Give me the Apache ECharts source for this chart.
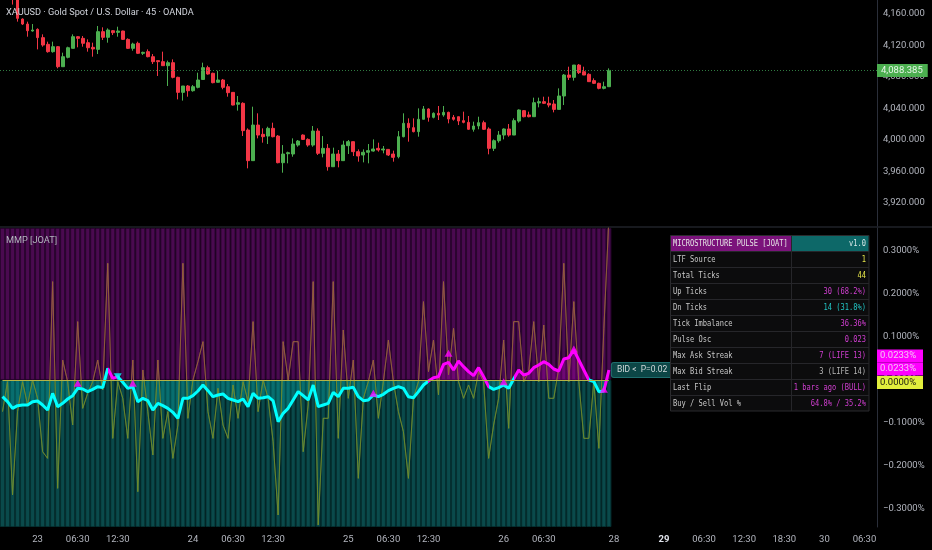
<!DOCTYPE html>
<html><head><meta charset="utf-8">
<script src="https://cdn.jsdelivr.net/npm/echarts@6/dist/echarts.min.js"></script>
<style>html,body{margin:0;padding:0;background:#000;}#c{width:932px;height:550px;}</style>
</head><body><div id="c"></div><script>
// ---------- data ----------
const SLOTS = 175;            // bar slots on the time axis (incl. future space)
const FIRST_CANDLE_SLOT = 2;  // first visible candle slot
const candleOpen = [4182,4179,4153.6,4147.3,4138.4,4140.5,4130,4121.5,4112.2,4118.5,
4093.1,4105,4116.4,4131.2,4129.1,4123.6,4117.7,4115.1,4137.6,4130.4,
4138.8,4136.7,4138.4,4127.8,4116.4,4122.8,4110.1,4112.2,4105.8,4100.8,
4099.5,4094.4,4098.2,4079.6,4060.5,4068.6,4062.6,4066.9,4076.9,4091.9,
4084.7,4073.3,4076.2,4067.7,4060.5,4045.4,4046.6,4012.7,3973.8,4019,
4007.2,4005,4014.8,4005,3971.2,3982.6,3982.2,3993.6,4006.3,4000.8,
3993.6,4011.4,3983.1,3989.4,3966.1,3982.2,3973.8,3992.8,3997.9,3985.2,
3981,3984.4,3986,3989.4,3987.3,3988.1,3982.2,3978.8,4004.2,4021.2,
4015.7,4010.6,4026.3,4039.4,4028.8,4033.9,4031.8,4035.1,4028.8,4029.6,
4024.6,4022.4,4013.6,4017.8,4022,4014,3989.4,3999.1,4006.3,4014,
4006.3,4024.1,4037.3,4031.8,4029.6,4047,4048.7,4046.6,4045.7,4038.9,
4055.9,4082.5,4079.6,4095.2,4086.8,4083.4,4075.4,4072,4065.6,4067.7];
const candleClose = [4179,4154.5,4147.3,4138.8,4139.7,4130,4120.6,4112.2,4118.5,4093.1,
4105.8,4117.2,4131.2,4129.1,4122.8,4117.2,4115.6,4137.6,4130.4,4139.7,
4136.3,4138.4,4127.8,4116.4,4121.9,4110.1,4111.3,4105.8,4099.5,4099.5,
4094.4,4098.2,4079.6,4060.5,4068.6,4062.6,4067.7,4076.2,4091.9,4083.8,
4072.8,4076.2,4066.9,4060.1,4044.4,4047.4,4011.9,3973.8,4019,4006.3,
4004.2,4014.8,4004.2,3971.2,3982.2,3983.9,3994.9,3998.7,4000.8,3993.6,
4011.4,3983.1,3989.4,3966.1,3982.2,3973.8,3993.6,3997.9,3985.2,3979.7,
3984.4,3986.5,3988.6,3987.3,3988.6,3981,3978,4004.2,4021.2,4015.7,
4010.6,4026.3,4039.4,4028.8,4033.9,4031.8,4035.1,4026.7,4026.3,4024.1,
4022.4,4013.6,4017.8,4022,4013.6,3989.4,3999.1,4006.3,4014,4006.3,
4024.6,4038.1,4029.6,4029.6,4047.4,4048.7,4046.6,4044.4,4038.9,4055.9,
4082.5,4079.6,4095.2,4085.5,4082.5,4074.1,4072,4065.6,4067.7,4088.385];
const candleLow = [4172,4150.3,4146,4131.2,4137.6,4115.1,4118.5,4110.9,4110.9,4091,
4093,4103.7,4116.4,4117.7,4118.5,4112.2,4105.8,4109.2,4127,4123.6,
4133.3,4131.2,4127,4115.6,4113.4,4109.2,4108,4105,4096.5,4081.3,
4094.4,4068.6,4078.3,4051.6,4050,4055,4061.4,4065.6,4076.9,4083,
4072,4072.8,4064.4,4055,4044,4037.3,4005.1,3964,3973.8,4002.1,
3996.6,3994.9,4003.4,3970.4,3958.5,3970.4,3978.8,3991.5,4000,3991.5,
3991.5,3981,3978,3961.1,3966.1,3965.3,3973.8,3982.2,3979.7,3972.5,
3971.6,3970.4,3985.2,3985.2,3983.1,3979.7,3972.5,3976.7,4003.4,3997.9,
4009.7,4004.2,4026.3,4023.3,4027.5,4025.4,4029.6,4021.2,4024.6,4019,
4021.2,4012.7,4010.6,4013.6,4012.7,3981.8,3986,3996.6,4000.8,4004.2,
4006.3,4022,4028.8,4028.8,4029.6,4041.5,4045.7,4041.5,4035.1,4038.9,
4044.4,4076.2,4075.4,4083.8,4082.5,4074.1,4071.1,4064.4,4064.4,4067.7];
const candleHigh = [4185,4185,4154.5,4150.3,4147.3,4141.8,4134.2,4124.9,4124.9,4119.4,
4110.9,4118.5,4134.2,4132.1,4132.1,4127.8,4123.6,4144.8,4143.1,4141.8,
4139.7,4143.9,4138.8,4129.1,4123.6,4124.9,4112.2,4115.1,4109.2,4100.8,
4112.2,4100.8,4102.4,4080.4,4068.6,4069.8,4069.8,4085.5,4098.2,4094.4,
4085.5,4088,4077.5,4071.1,4060.9,4055.9,4047.9,4014.8,4042.3,4033.9,
4014.8,4016.9,4022,4006.3,3993.6,3985.2,4002.1,4000,4007.2,4002.1,
4017.8,4014.8,4005,3994.9,3990.3,3987.3,3999.1,4000,3997.9,3988.1,
3988.1,3994.9,4000.8,3996.6,3992.4,3988.6,3986.5,4011.4,4033.9,4027.5,
4027.5,4040.2,4043.2,4040.2,4035.1,4043.2,4043.2,4036,4031.8,4029.6,
4036,4030.5,4023.3,4029.6,4024.6,4016.1,4000.8,4011.4,4014.8,4020.3,
4027.5,4038.9,4038.1,4036,4053.8,4053.8,4055,4055,4050.8,4065.6,
4083.8,4093.1,4095.2,4096.5,4093.1,4084.7,4078.3,4072.8,4074.1,4091];
// oscillator (percent units), one value per slot 0..121
const pulseOsc = [-0.0388,-0.0504,-0.0659,-0.0597,-0.0581,-0.0581,-0.0504,-0.0488,-0.0581,-0.0698,
-0.0310,-0.0620,-0.0543,-0.0442,-0.0364,-0.0194,-0.0209,-0.0271,-0.0217,-0.0155,
-0.0178,0.0271,0.0039,0.0078,-0.0054,-0.0194,-0.0155,-0.0504,-0.0426,-0.0481,
-0.0698,-0.0543,-0.0597,-0.0659,-0.0752,-0.0891,-0.0426,-0.0426,-0.0364,-0.0256,
-0.0116,-0.0248,-0.0388,-0.0349,-0.0326,-0.0426,-0.0465,-0.0504,-0.0442,-0.0620,
-0.0310,-0.0426,-0.0411,-0.0388,-0.0488,-0.0969,-0.0775,-0.0659,-0.0465,-0.0271,
-0.0364,-0.0465,-0.0116,-0.0620,-0.0581,-0.0543,-0.0287,-0.0388,-0.0194,-0.0194,
-0.0171,-0.0388,-0.0481,-0.0465,-0.0349,-0.0388,-0.0333,-0.0248,-0.0194,-0.0155,
-0.0194,-0.0388,-0.0411,-0.0271,-0.0116,-0.0023,0.0054,0.0078,0.0364,0.0411,
0.0233,0.0442,0.0310,0.0194,0.0101,0.0287,0.0078,-0.0155,-0.0217,-0.0178,
-0.0116,-0.0194,0.0023,0.0233,0.0116,0.0155,0.0287,0.0349,0.0426,0.0364,
0.0256,0.0209,0.0488,0.0519,0.0698,0.0465,0.0233,0.0000,-0.0039,-0.0271,
-0.0256,0.0233];
const tickImbalance = [-0.0736,-0.0039,-0.2674,-0.0736,-0.0039,-0.0581,0,-0.0426,-0.1667,-0.1822,
0.2287,-0.2519,0.0465,-0.0039,-0.1047,0.1357,-0.0659,-0.0310,-0.0039,0.0465,
-0.0233,0.2713,-0.1357,-0.0039,-0.0426,-0.1357,0.0465,-0.2597,0.0233,-0.0736,
-0.1744,0.0465,-0.1357,-0.0736,-0.1822,-0.1047,0.2713,-0.0891,0,0.0426,
0.0891,-0.0736,-0.1357,-0.0194,-0.1047,-0.1357,-0.0116,-0.0891,-0.0039,-0.0504,
0.1357,-0.0736,0,-0.0426,-0.1434,-0.3140,0.0891,0,0.0891,0.0891,
-0.1667,-0.0581,0.2287,-0.3372,-0.0891,-0.0891,0.2287,-0.1357,0.1163,-0.0426,
0.0465,-0.2287,-0.0426,-0.0039,0.0465,-0.0891,-0.0039,0.0930,-0.0039,-0.0736,
-0.1202,-0.2287,-0.0426,-0.0039,0.1822,0.0194,0.0930,-0.0349,0.2287,0.0116,
0.1202,-0.0039,-0.0426,-0.0116,-0.0426,0.0194,-0.0039,-0.1822,-0.1047,-0.0426,
0.0930,-0.1124,0.1357,0.1357,-0.0039,0.0194,0.1357,-0.0039,0.1279,-0.0426,
-0.0426,0.0271,0.2713,-0.0039,0.1822,-0.0039,-0.1357,-0.1357,-0.0039,-0.1589,
0.1202,0.3760];
const bullFlipMarks = [[15,-0.0077],[26,-0.0077],[74,-0.031],[89,0.062],[100,-0.004],[114,0.072],[120,-0.0217]];
const bearFlipMarks = [[23,0.0077]];
const bullRuns = [[21,22],[85,96],[102,116],[120,121]];
const priceTicks = [3920,3960,4000,4040,4080,4120,4160];
const oscTicks = [-0.3,-0.2,-0.1,0,0.1,0.2,0.3];
const timeTicks = [[7,'23'],[15,'06:30'],[23,'12:30'],[38,'24'],[46,'06:30'],[54,'12:30'],
 [69,'25'],[77,'06:30'],[85,'12:30'],[100,'26'],[108,'06:30'],[122,'28'],[132,'29'],
 [140,'06:30'],[148,'12:30'],[156,'18:30'],[164,'30'],[172,'06:30']];
const boldTimeLabels = ['29'];
const PRICE_MIN = 3890.8, PRICE_MAX = 4177.8;
const OSC_MIN = -0.3419, OSC_MAX = 0.3535;
const lastPrice = 4088.385;
const pulseLast = 0.0233;
const titleText = 'XAUUSD · Gold Spot / U.S. Dollar · 45 · OANDA';
const paneText = 'MMP [JOAT]';
const endText = 'BID <  P=0.02';
const tableHeader = ['MICROSTRUCTURE PULSE [JOAT]', 'v1.0'];
const tableLabels = ['LTF Source','Total Ticks','Up Ticks','Dn Ticks','Tick Imbalance','Pulse Osc','Max Ask Streak','Max Bid Streak','Last Flip','Buy / Sell Vol %'];
const tableValues = ['1','44','30 (68.2%)','14 (31.8%)','36.36%','0.023','7 (LIFE 13)','3 (LIFE 14)','1 bars ago (BULL)','64.8% / 35.2%'];
const tableValueTone = ['y','y','m','c','m','m','m','g','m','m'];

// ---------- styles ----------
const CYAN = '#00ffff', MAG = '#ff00ff';
const UP = '#4caf50', DOWN = '#f23645';
const AXIS_TXT = '#b2b5be';
const FONT = 'Roboto';
const toneColor = {y:'#e4e44a', m:'#d23fd2', c:'#22c4c4', g:'#b8b8b8'};

const categories = Array.from({length: SLOTS}, (_, i) => String(i));
const candleData = [];
for (let k = 0; k < FIRST_CANDLE_SLOT; k++) candleData.push(['-','-','-','-']);
candleOpen.forEach((o, i) => candleData.push([o, candleClose[i], candleLow[i], candleHigh[i]]));
const zoneUp = pulseOsc.map(() => OSC_MAX);
const zoneDn = pulseOsc.map(() => OSC_MIN);
const timeMap = {}; timeTicks.forEach(([i, t]) => timeMap[i] = t);

// colour sections of the pulse line along the time axis (finite bounds so gradient stops exist)
const pulsePieces = [];
let prevEdge = -1;
bullRuns.forEach(([a, b]) => {
  pulsePieces.push({gte: prevEdge, lt: a - 0.5, color: CYAN});
  pulsePieces.push({gte: a - 0.5, lt: b + 0.5, color: MAG});
  prevEdge = b + 0.5;
});
pulsePieces.push({gte: prevEdge, lte: SLOTS, color: CYAN});

const fmtPrice = v => v.toLocaleString('en-US', {minimumFractionDigits: 3, maximumFractionDigits: 3});
const fmtPct = v => (v < -1e-9 ? '\u2212' : '') + Math.abs(v).toFixed(4) + '%';

const chart = echarts.init(document.getElementById('c'));
const option = {
  animation: false,
  backgroundColor: '#000000',
  title: [
    {text: titleText, left: 6, top: 8, padding: 0, textStyle: {color: '#d1d4dc', fontSize: 9.2, fontWeight: 'normal', fontFamily: FONT}},
    {text: paneText, left: 6, top: 236, padding: 0, textStyle: {color: AXIS_TXT, fontSize: 9.2, fontWeight: 'normal', fontFamily: FONT}}
  ],
  grid: [
    {left: 0, right: 55, top: 0, height: 226},
    {left: 0, right: 55, top: 228, height: 299}
  ],
  xAxis: [
    {type: 'category', gridIndex: 0, data: categories, axisLine: {show: false}, axisTick: {show: false}, axisLabel: {show: false}, splitLine: {show: false}},
    {type: 'category', gridIndex: 1, data: categories, axisLine: {show: false}, axisTick: {show: false}, splitLine: {show: false},
     axisLabel: {
       margin: 8, color: AXIS_TXT, fontSize: 9.5, fontFamily: FONT,
       interval: (idx) => timeMap[idx] !== undefined,
       formatter: (val, idx) => { const t = timeMap[idx]; if (t === undefined) return ''; return boldTimeLabels.includes(t) ? '{b|' + t + '}' : t; },
       rich: {b: {fontWeight: 'bold', color: '#e0e3eb', fontSize: 9.5, fontFamily: FONT}}
     }}
  ],
  yAxis: [
    {type: 'value', gridIndex: 0, position: 'right', min: PRICE_MIN, max: PRICE_MAX, scale: true,
     axisLine: {show: true, lineStyle: {color: '#2a2e39'}}, axisTick: {show: false}, splitLine: {show: false},
     axisLabel: {customValues: priceTicks, margin: 6, color: AXIS_TXT, fontSize: 9.5, fontFamily: FONT, formatter: fmtPrice}},
    {type: 'value', gridIndex: 1, position: 'right', min: OSC_MIN, max: OSC_MAX,
     axisLine: {show: true, lineStyle: {color: '#2a2e39'}}, axisTick: {show: false}, splitLine: {show: false},
     axisLabel: {customValues: oscTicks, margin: 6, color: AXIS_TXT, fontSize: 9.5, fontFamily: FONT, formatter: fmtPct}}
  ],
  visualMap: [
    {type: 'piecewise', show: false, seriesIndex: 4, dimension: 0, pieces: pulsePieces},
    {type: 'piecewise', show: false, seriesIndex: 3, dimension: 1,
     pieces: [{gte: -1, lt: 0, color: 'rgba(112,140,44,0.7)'}, {gte: 0, lte: 1, color: 'rgba(150,96,60,0.72)'}]}
  ],
  series: [
    {type: 'candlestick', xAxisIndex: 0, yAxisIndex: 0, data: candleData, barWidth: '66%', clip: true,
     itemStyle: {color: UP, color0: DOWN, borderColor: UP, borderColor0: DOWN, borderWidth: 1},
     markLine: {silent: true, symbol: ['none', 'none'],
       lineStyle: {color: '#2f7a40', type: [1, 2], width: 1},
       label: {show: true, position: 'end', distance: 0, formatter: fmtPrice(lastPrice), color: '#e8f5e9',
               backgroundColor: '#4caf50', padding: [2, 5, 1, 4], fontSize: 9.5, fontFamily: FONT},
       data: [{yAxis: lastPrice}]}},
    {type: 'bar', xAxisIndex: 1, yAxisIndex: 1, data: zoneUp, barWidth: '100%', barGap: '-100%', silent: true,
     itemStyle: {color: '#4a0a50', borderColor: '#2c0531', borderWidth: 1}},
    {type: 'bar', xAxisIndex: 1, yAxisIndex: 1, data: zoneDn, barWidth: '100%', barGap: '-100%', silent: true,
     itemStyle: {color: '#0a4a4b', borderColor: '#053031', borderWidth: 1},
     markLine: {silent: true, symbol: ['none', 'none'], label: {show: false},
       lineStyle: {color: '#b4b445', type: 'solid', width: 1},
       data: [[{coord: ['0', 0]}, {coord: [String(pulseOsc.length - 1), 0]}]]}},
    {type: 'line', xAxisIndex: 1, yAxisIndex: 1, data: tickImbalance, symbol: 'none', lineStyle: {width: 1}, silent: true},
    {type: 'line', xAxisIndex: 1, yAxisIndex: 1, data: pulseOsc, symbol: 'none', lineStyle: {width: 3}, silent: true,
     areaStyle: {opacity: 0.2},
     endLabel: {show: true, formatter: endText, color: '#d0d8da', fontSize: 8.5, fontFamily: FONT,
       backgroundColor: '#0c4646', borderColor: '#1f6e6e', borderWidth: 1, borderRadius: 2, padding: [3, 5, 2, 5], distance: 3}},
    {type: 'scatter', xAxisIndex: 1, yAxisIndex: 1, data: bullFlipMarks, symbol: 'triangle', symbolSize: [8, 7],
     itemStyle: {color: MAG}, silent: true, z: 5},
    {type: 'scatter', xAxisIndex: 1, yAxisIndex: 1, data: bearFlipMarks, symbol: 'triangle', symbolRotate: 180, symbolSize: [8, 7],
     itemStyle: {color: CYAN}, silent: true, z: 5}
  ]
};
chart.setOption(option);

// ---------- overlays: pane separator, info table, right-scale value tags ----------
const g = [];
g.push({type: 'line', z: 20, shape: {x1: 0, y1: 227, x2: 932, y2: 227}, style: {stroke: '#2f323c', lineWidth: 1}});
const T = {x: 670.5, y: 235.5, w: 198.5, headH: 15.5, rowH: 16, split: 791.5, tx: 673, vx: 866};
const MONO = '8.5px "DejaVu Sans Mono"';
const rowsH = T.headH + T.rowH * tableLabels.length;
g.push({type: 'rect', z: 20, shape: {x: T.x, y: T.y, width: T.w, height: rowsH}, style: {fill: '#0c0c0d', stroke: '#2b2b2e', lineWidth: 1}});
g.push({type: 'rect', z: 21, shape: {x: T.x + 0.5, y: T.y + 0.5, width: T.split - T.x - 0.5, height: T.headH - 0.5}, style: {fill: '#7b137b'}});
g.push({type: 'rect', z: 21, shape: {x: T.split, y: T.y + 0.5, width: T.x + T.w - T.split - 0.5, height: T.headH - 0.5}, style: {fill: '#0d6868'}});
for (let i = 0; i <= tableLabels.length - 1; i++) {
  const yy = Math.round(T.y + T.headH + T.rowH * i) + 0.5;
  g.push({type: 'line', z: 21, shape: {x1: T.x, y1: yy, x2: T.x + T.w, y2: yy}, style: {stroke: '#26262a', lineWidth: 1}});
}
g.push({type: 'line', z: 21, shape: {x1: T.split, y1: T.y, x2: T.split, y2: T.y + rowsH}, style: {stroke: '#26262a', lineWidth: 1}});
function mono(x, y, text, color, align) {
  return {type: 'text', z: 22, x: x, y: y, scaleX: 0.83, style: {text: text, fill: color, font: MONO, align: align, verticalAlign: 'middle'}};
}
g.push(mono(T.tx, T.y + T.headH / 2 + 0.5, tableHeader[0], '#e6e6e6', 'left'));
g.push(mono(T.vx, T.y + T.headH / 2 + 0.5, tableHeader[1], '#d8e8e8', 'right'));
tableLabels.forEach((lab, i) => {
  const cy = T.y + T.headH + T.rowH * i + T.rowH / 2 + 0.5;
  g.push(mono(T.tx, cy, lab, '#c8c8c8', 'left'));
  g.push(mono(T.vx, cy, tableValues[i], toneColor[tableValueTone[i]], 'right'));
});
// right-scale value tags (stacked like the platform does)
const yZero = chart.convertToPixel({yAxisIndex: 1}, 0);
const yPulse = chart.convertToPixel({yAxisIndex: 1}, pulseLast);
const tags = [
  {cy: yPulse - 14, text: fmtPct(pulseLast), bg: MAG, fg: '#f3c8f3'},
  {cy: yPulse - 1, text: fmtPct(pulseLast), bg: MAG, fg: '#f3c8f3'},
  {cy: yZero + 2.5, text: fmtPct(0), bg: '#e2ee3c', fg: '#202010'}
];
tags.forEach(t => {
  g.push({type: 'rect', z: 30, shape: {x: 877, y: t.cy - 6.5, width: 46, height: 13}, style: {fill: t.bg}});
  g.push({type: 'text', z: 31, x: 880, y: t.cy, style: {text: t.text, fill: t.fg, font: '9.5px ' + FONT, align: 'left', verticalAlign: 'middle'}});
});
chart.setOption({graphic: g});
</script></body></html>
